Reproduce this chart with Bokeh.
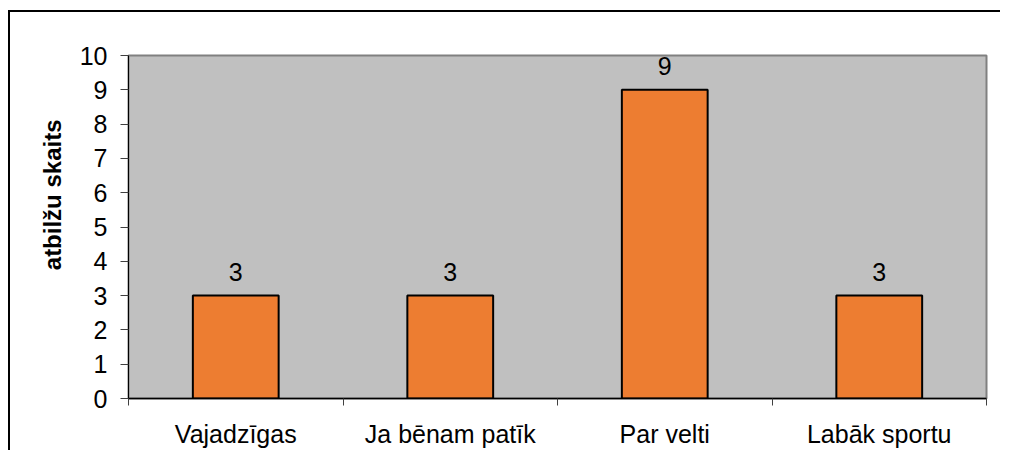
from bokeh.plotting import figure
from bokeh.models import Range1d, FixedTicker, Title, ColumnDataSource
from bokeh.core.properties import value
from bokeh.embed import file_html
from bokeh.resources import INLINE

categories = ["Vajadzīgas", "Ja bēnam patīk", "Par velti", "Labāk sportu"]
values = [3, 3, 9, 3]
y_ticks = list(range(0, 11))
y_title = "atbilžu skaits"

FONT = "Liberation Sans"

xs = [i + 0.5 for i in range(len(categories))]
bounds = list(range(len(categories) + 1))

src = ColumnDataSource(dict(x=xs, top=values, label=[str(v) for v in values]))

outer_border = (
    "linear-gradient(#000,#000) 8px 10px / 2px 100% no-repeat, "
    "linear-gradient(#000,#000) 8px 10px / 100% 2px no-repeat, white"
)

p = figure(
    width=1000, height=450,
    x_range=Range1d(0, len(categories)), y_range=Range1d(0, 10),
    output_backend="svg", toolbar_location=None,
    min_border_left=128, min_border_right=14, min_border_top=55, min_border_bottom=44,
    background_fill_color="#C0C0C0", border_fill_color=None,
    outline_line_color="#808080", outline_line_width=2,
    styles={"background": outer_border},
)
p.grid.visible = False

p.vbar(x="x", top="top", width=0.4, bottom=0, source=src,
       fill_color="#ED7D31", line_color="black", line_width=2)

p.text(x="x", y="top", text="label", source=src, text_align="center",
       text_baseline="alphabetic", y_offset=-24,
       text_font=value(FONT), text_font_size="25px", text_color="black")

# x axis
xa = p.xaxis[0]
xa.ticker = FixedTicker(ticks=xs, minor_ticks=bounds)
xa.major_label_overrides = {x: c for x, c in zip(xs, categories)}
xa.major_tick_out = 0
xa.major_tick_in = 0
xa.minor_tick_out = 7
xa.minor_tick_in = 0
xa.minor_tick_line_color = "#404040"
xa.axis_line_color = "black"
xa.axis_line_width = 1.5
xa.major_label_standoff = 14
xa.major_label_text_font = FONT
xa.major_label_text_font_size = "25px"
xa.major_label_text_color = "black"

# y axis
ya = p.yaxis[0]
ya.ticker = FixedTicker(ticks=y_ticks, minor_ticks=[])
ya.major_tick_out = 8
ya.major_tick_in = 0
ya.major_tick_line_color = "#404040"
ya.axis_line_color = "black"
ya.axis_line_width = 1
ya.major_label_standoff = 13
ya.major_label_text_font = FONT
ya.major_label_text_font_size = "25px"
ya.major_label_text_color = "black"

p.add_layout(Title(text=y_title, align="right", offset=64, standoff=22,
                   text_font=FONT, text_font_size="24px", text_font_style="bold",
                   text_color="black"), "left")

open("out.html", "w").write(file_html(p, INLINE))
